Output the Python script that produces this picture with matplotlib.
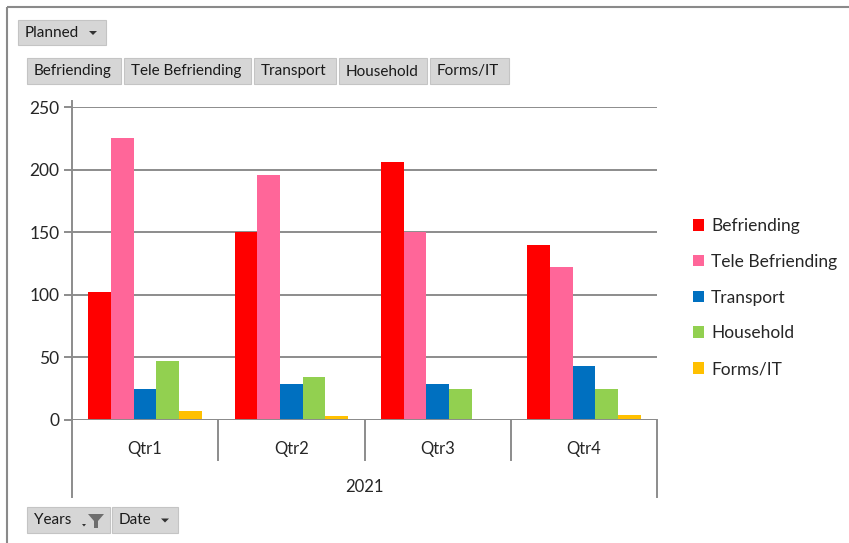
import numpy as np
import matplotlib
matplotlib.use("Agg")
from matplotlib import pyplot as plt
from matplotlib import patches, transforms

# ------------ DATA
quarters = ["Qtr1", "Qtr2", "Qtr3", "Qtr4"]
year_label = "2021"
series_names = ["Befriending", "Tele Befriending", "Transport", "Household", "Forms/IT"]
befriending = [102, 150, 206, 140]
tele_befriending = [225, 196, 150, 122]
transport = [25, 29, 29, 43]
household = [47, 34, 25, 25]
forms_it = [7, 3, 0, 4]
y_ticks = [0, 50, 100, 150, 200, 250]

colors = ["#FF0000", "#FF6699", "#0070C0", "#92D050", "#FFC000"]
grid_color = "#8C8C8C"
text_color = "#262626"

plt.rcParams["font.family"] = ["Lato", "DejaVu Sans"]

W, H = 849, 543
fig = plt.figure(figsize=(W / 100, H / 100), dpi=100)

# pixel helper -> figure fraction
def fx(px):
    return px / W

def fy(py):
    return 1 - py / H

ax = fig.add_axes([fx(72), fy(420), fx(657) - fx(72), fy(107) - fy(420)])

values = [befriending, tele_befriending, transport, household, forms_it]
x = np.arange(len(quarters))
bar_w = 0.155
for i, (name, vals) in enumerate(zip(series_names, values)):
    offs = (i - 2) * bar_w
    ax.bar(x + offs, vals, width=bar_w, color=colors[i], label=name, zorder=3)

ax.set_xlim(-0.5, len(quarters) - 0.5)
ax.set_ylim(0, 250)
ax.set_yticks(y_ticks)
ax.yaxis.grid(True, color=grid_color, linewidth=1.4, zorder=0)
ax.tick_params(axis="y", length=6, width=1.4, color=grid_color, labelsize=12.5,
               labelcolor=text_color, pad=3)
for s in ["top", "right", "left", "bottom"]:
    ax.spines[s].set_visible(False)

# category labels
ax.set_xticks(x, quarters)
ax.tick_params(axis="x", length=0, labelsize=12, labelcolor=text_color, pad=15)

# category divider lines and axis lines
trans = transforms.blended_transform_factory(ax.transData, ax.transAxes)
inner_depth = -(460 - 420) / 313
outer_depth = -(497 - 420) / 313
for b in np.arange(-0.5, len(quarters), 1.0):
    is_edge = b in (-0.5, len(quarters) - 0.5)
    y0 = outer_depth if is_edge else inner_depth
    ax.plot([b, b], [0, y0], transform=trans, color=grid_color, lw=1.4,
            clip_on=False, zorder=2)
ax.plot([-0.5, -0.5], [0, 1.02], transform=trans, color=grid_color, lw=1.4,
        clip_on=False, zorder=2)
ax.axhline(0, color=grid_color, lw=1.4, zorder=4)
ax.text(x.mean(), -(487 - 420) / 313, year_label, transform=trans, ha="center",
        va="center", fontsize=12, color=text_color)

# legend
ax.legend(loc="upper left", bbox_to_anchor=(fx(693), fy(218)),
          bbox_transform=fig.transFigure, frameon=False, fontsize=12.5,
          borderpad=0, borderaxespad=0,
          handlelength=0.65, handleheight=0.65, handletextpad=0.4,
          labelspacing=1.14, labelcolor=text_color)

# ------------ pivot field buttons
ov = fig.add_axes([0, 0, 1, 1], zorder=-1)
ov.set_xlim(0, W)
ov.set_ylim(H, 0)
ov.axis("off")

# outer chart frame
ov.add_patch(patches.Rectangle((7, 7), W, H, fill=False, ec="#8A8A8A", lw=1.5))

def button(x0, x1, y0, y1, label, arrow=False, funnel=False):
    ov.add_patch(patches.Rectangle((x0, y0), x1 - x0, y1 - y0, fc="#D6D6D6",
                                   ec="#C4C4C4", lw=0.8))
    ov.text(x0 + 7, (y0 + y1) / 2 + 0.5, label, ha="left", va="center",
            fontsize=11, color="#1A1A1A")
    if funnel:
        cx, cy = x1 - 14, (y0 + y1) / 2
        ov.add_patch(patches.Polygon([[cx - 8, cy - 6], [cx + 8, cy - 6], [cx + 2, cy + 1],
                                      [cx + 2, cy + 8], [cx - 2, cy + 8], [cx - 2, cy + 1]],
                                     closed=True, fc="#6E6E6E", ec="none"))
        ov.add_patch(patches.Polygon([[cx - 14, cy + 4], [cx - 10, cy + 4], [cx - 12, cy + 6.5]],
                                     closed=True, fc="#333333", ec="none"))
    elif arrow:
        cx, cy = x1 - 13, (y0 + y1) / 2
        ov.add_patch(patches.Polygon([[cx - 4, cy - 1.5], [cx + 4, cy - 1.5], [cx, cy + 2.5]],
                                     closed=True, fc="#333333", ec="none"))

button(18, 106, 20, 45, "Planned", arrow=True)
field_x = [(27, 121), (124, 251), (254, 336), (339, 427), (430, 509)]
for (a, b), name in zip(field_x, series_names):
    button(a, b, 58, 84, name)
button(27, 110, 507, 533, "Years", funnel=True)
button(112, 178, 507, 533, "Date", arrow=True)

fig.savefig("out.png", dpi=100)
